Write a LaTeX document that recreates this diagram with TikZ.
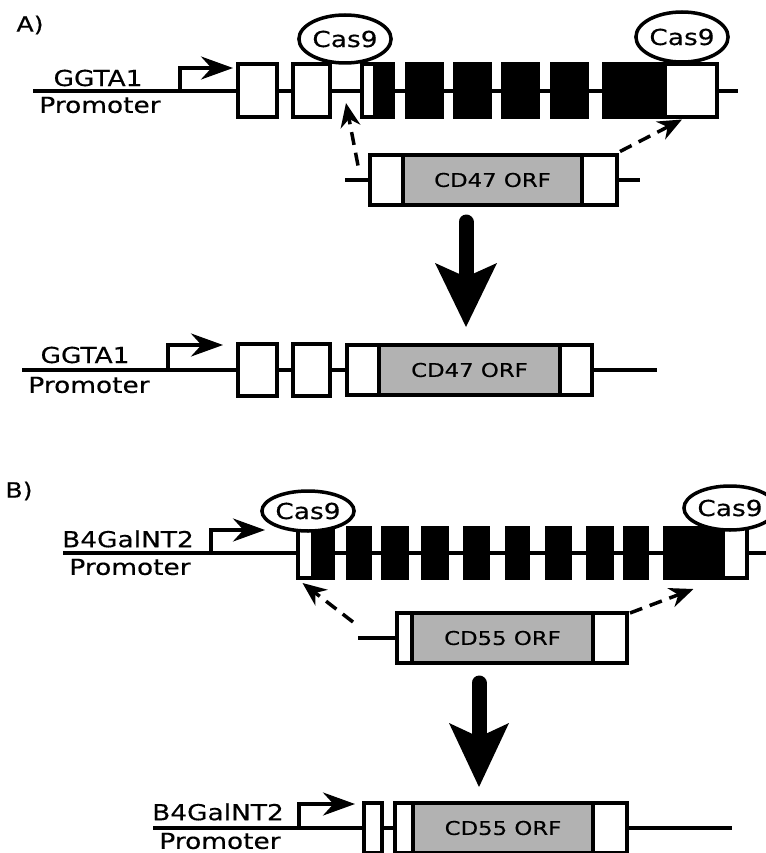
\documentclass[tikz,border=0pt]{standalone}
\usepackage{fontspec}
\setmainfont{DejaVu Sans}[FakeStretch=1.2, FakeBold=0.4]
\usetikzlibrary{arrows.meta, positioning, shapes.geometric, calc}

\begin{document}
\begin{tikzpicture}[
    x=1pt, y=-1pt,
    exon/.style={draw, line width=4pt, fill=white, minimum height=52pt, inner sep=0pt},
    cds/.style={exon, fill=black},
    orf/.style={exon, fill=black!30, font=\fontsize{19}{22}\selectfont},
    cas/.style={ellipse, draw, line width=3.5pt, fill=white, inner sep=0pt, font=\fontsize{22}{25}\selectfont},
    lbl/.style={inner sep=0pt, font=\fontsize{22}{26}\selectfont},
    dna/.style={line width=3.5pt},
    prom/.style={line width=3.5pt, -{Stealth[length=32pt, width=23pt]}},
    hdr/.style={line width=3.5pt, dash pattern=on 13pt off 8pt, -{Stealth[length=24pt, width=20pt]}},
    bigarrow/.style={line width=15pt, line cap=round}
]
    \useasboundingbox (0,0) rectangle (765,853);

    % A) GGTA1 locus
    \node[lbl, font=\fontsize{21}{24}\selectfont] (labA) at (30,25) {A)};
    \begin{scope}[shift={(0,91)}]
        \coordinate (gA0) at (33,0);
        \coordinate (gA1) at (738,0);
        \draw[dna] (gA0) -- (gA1);
        \node[lbl] (ggtaA) at (98,-13) {GGTA1};
        \node[lbl] (promA) at (100,14) {Promoter};
        \coordinate (tssA) at (180,0);
        \coordinate (tssAe) at (233,-23);
        \draw[prom] (tssA) |- (tssAe);
        \node[exon, minimum width=39pt, minimum height=53pt] (a1) at (257.5,0) {};
        \node[exon, minimum width=37pt, minimum height=53pt] (a2) at (311.5,0) {};
        \node[exon, minimum width=13pt, minimum height=53pt] (a3) at (368.5,0) {};
        \node[cds, minimum width=18pt, minimum height=53pt] (a4) at (384,0) {};
        \node[cds, minimum width=35pt, minimum height=53pt] (a5) at (424.5,0) {};
        \node[cds, minimum width=35pt, minimum height=53pt] (a6) at (472.5,0) {};
        \node[cds, minimum width=35pt, minimum height=53pt] (a7) at (520.5,0) {};
        \node[cds, minimum width=35pt, minimum height=53pt] (a8) at (569.5,0) {};
        \node[cds, minimum width=61pt, minimum height=53pt] (a9) at (634.5,0) {};
        \node[exon, minimum width=52pt, minimum height=53pt] (a10) at (691,0) {};
        \node[cas, minimum width=86pt, minimum height=48pt] (casA1) at (345,-52) {Cas9};
        \node[cas, minimum width=92pt, minimum height=50pt] (casA2) at (682,-54) {Cas9};
    \end{scope}

    % donor CD47
    \begin{scope}[shift={(0,180)}]
        \coordinate (lnA0) at (345,0);
        \coordinate (lnA1) at (640,0);
        \draw[dna] (lnA0) -- (lnA1);
        \node[exon, minimum width=33pt, minimum height=49pt] (dAl) at (386.5,0) {};
        \node[orf, minimum width=179pt, minimum height=49pt] (dAo) at (492.5,0) {CD47 ORF};
        \node[exon, minimum width=35pt, minimum height=49pt] (dAr) at (599.5,0) {};
    \end{scope}
    \coordinate (cutA1) at ($(a2.east)!0.5!(a3.west)+(0,12)$);
    \draw[hdr] ($(dAl.north west)+(-10,12)$) -- (cutA1);
    \draw[hdr] ($(dAr.north east)+(1,-2)$) -- ($(a10.south)+(-9,0)$);

    \coordinate (bigAtop) at (466,222);
    \coordinate (bigAtip) at (466,327);
    \draw[bigarrow] (bigAtop) -- ($(bigAtip)+(0,-52)$);
    \fill ($(bigAtip)+(-31,-64)$) -- (bigAtip) -- ($(bigAtip)+(31,-64)$) -- ($(bigAtip)+(0,-50)$) -- cycle;

    % knock-in result A
    \begin{scope}[shift={(0,370)}]
        \coordinate (gB0) at (22,0);
        \coordinate (gB1) at (657,0);
        \draw[dna] (gB0) -- (gB1);
        \node[lbl] (ggtaB) at (85,-15) {GGTA1};
        \node[lbl] (promB) at (89,15) {Promoter};
        \coordinate (tssB) at (168,0);
        \coordinate (tssBe) at (223,-25);
        \draw[prom] (tssB) |- (tssBe);
        \node[exon, minimum width=39pt] (b1) at (257.5,0) {};
        \node[exon, minimum width=37pt] (b2) at (311.5,0) {};
        \node[exon, minimum width=32pt, minimum height=50pt] (b3) at (363,0) {};
        \node[orf, minimum width=181pt, minimum height=50pt] (b4) at (469.5,0) {CD47 ORF};
        \node[exon, minimum width=32pt, minimum height=50pt] (b5) at (576,0) {};
    \end{scope}

    % B) B4GalNT2 locus
    \node[lbl, font=\fontsize{21}{24}\selectfont] (labB) at (19,491) {B)};
    \begin{scope}[shift={(0,553)}]
        \coordinate (gC0) at (63,0);
        \coordinate (gC1) at (770,0);
        \draw[dna] (gC0) -- (gC1);
        \node[lbl] (b4gC) at (128,-14) {B4GalNT2};
        \node[lbl] (promC) at (130,14) {Promoter};
        \coordinate (tssC) at (211,0);
        \coordinate (tssCe) at (265,-23);
        \draw[prom] (tssC) |- (tssCe);
        \node[exon, minimum width=15pt, minimum height=50pt] (c1) at (305.5,0) {};
        \node[cds, minimum width=20pt, minimum height=50pt] (c2) at (323,0) {};
        \node[cds, minimum width=22pt, minimum height=50pt] (c3) at (359,0) {};
        \node[cds, minimum width=24pt, minimum height=50pt] (c4) at (395,0) {};
        \node[cds, minimum width=24pt, minimum height=50pt] (c5) at (435,0) {};
        \node[cds, minimum width=23pt, minimum height=50pt] (c6) at (476.5,0) {};
        \node[cds, minimum width=21pt, minimum height=50pt] (c7) at (517.5,0) {};
        \node[cds, minimum width=23pt, minimum height=50pt] (c8) at (558.5,0) {};
        \node[cds, minimum width=24pt, minimum height=50pt] (c9) at (600,0) {};
        \node[cds, minimum width=22pt, minimum height=50pt] (c10) at (636,0) {};
        \node[cds, minimum width=23pt, minimum height=50pt] (c11) at (676.5,0) {};
        \node[cds, minimum width=31pt, minimum height=50pt] (c12) at (707.5,0) {};
        \node[exon, minimum width=24pt, minimum height=50pt] (c13) at (735,0) {};
        \node[cas, minimum width=92pt, minimum height=40pt] (casB1) at (308,-42) {Cas9};
        \node[cas, minimum width=84pt, minimum height=44pt] (casB2) at (730,-45) {Cas9};
    \end{scope}

    % donor CD55
    \begin{scope}[shift={(0,638)}]
        \coordinate (lnB0) at (358,0);
        \node[exon, minimum width=15pt, minimum height=50pt] (dBl) at (404.5,0) {};
        \draw[dna] (lnB0) -- (dBl.west);
        \node[orf, minimum width=181pt, minimum height=50pt] (dBo) at (502.5,0) {CD55 ORF};
        \node[exon, minimum width=34pt, minimum height=50pt] (dBr) at (610,0) {};
    \end{scope}
    \draw[hdr] ($(lnB0)+(-5,-16)$) -- ($(c1.south)+(-3,3)$);
    \draw[hdr] ($(dBr.north east)+(1,2)$) -- ($(c12.south)+(-14,9)$);

    \coordinate (bigBtop) at (479,683);
    \coordinate (bigBtip) at (479,787);
    \draw[bigarrow] (bigBtop) -- ($(bigBtip)+(0,-52)$);
    \fill ($(bigBtip)+(-30,-64)$) -- (bigBtip) -- ($(bigBtip)+(30,-64)$) -- ($(bigBtip)+(0,-50)$) -- cycle;

    % knock-in result B
    \begin{scope}[shift={(0,828)}]
        \coordinate (gD0) at (153,0);
        \coordinate (gD1) at (732,0);
        \draw[dna] (gD0) -- (gD1);
        \node[lbl] (b4gD) at (218,-16) {B4GalNT2};
        \node[lbl] (promD) at (220,13) {Promoter};
        \coordinate (tssD) at (299,0);
        \coordinate (tssDe) at (355,-24);
        \draw[prom] (tssD) |- (tssDe);
        \node[exon, minimum width=18pt, minimum height=50pt] (e1) at (373,0) {};
        \node[exon, minimum width=18pt, minimum height=50pt] (e2) at (404,0) {};
        \node[orf, minimum width=180pt, minimum height=50pt] (e3) at (503,0) {CD55 ORF};
        \node[exon, minimum width=34pt, minimum height=50pt] (e4) at (610,0) {};
    \end{scope}
\end{tikzpicture}
\end{document}
